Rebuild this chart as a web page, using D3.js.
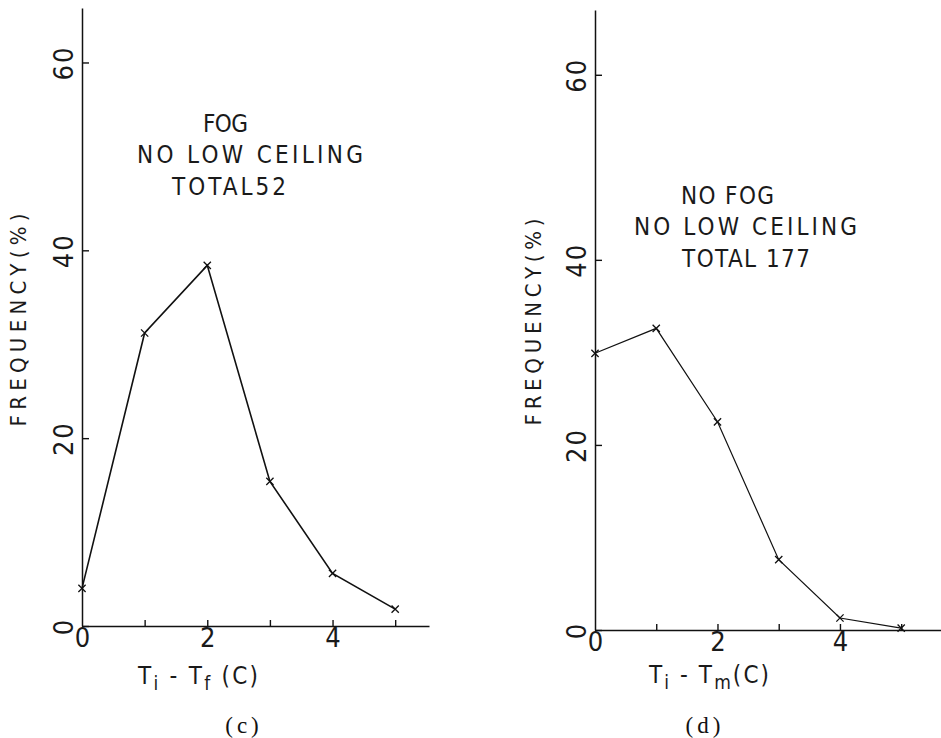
<!DOCTYPE html>
<html>
<head>
<meta charset="utf-8">
<script src="https://cdnjs.cloudflare.com/ajax/libs/d3/7.8.5/d3.min.js"></script>
<style>
  html, body { margin: 0; padding: 0; background: #fff; }
  svg { display: block; }
  text { fill: #1a1a1a; font-family: "Liberation Sans Narrow", "DejaVu Sans Condensed", "Liberation Sans", sans-serif; }
  .caption { font-family: "Liberation Serif", "DejaVu Serif", serif; fill: #111; }
</style>
</head>
<body>
<svg id="chart" width="941" height="738"></svg>
<script>
// temperature difference classes (C)
const diffs = [0, 1, 2, 3, 4, 5];
// (c) fog, no low ceiling, total 52
const fogFreq = [4.0, 31.2, 38.4, 15.4, 5.6, 1.8];
// (d) no fog, no low ceiling, total 177
const noFogFreq = [29.9, 32.6, 22.5, 7.6, 1.3, 0.2];
const yTicks = [0, 20, 40, 60];
const xTickLabels = [0, 2, 4];
const yLabel = 'FREQUENCY(%)';

const svg = d3.select('#chart');

function drawPanel(opts) {
  const x = d3.scaleLinear().domain([0, opts.xMax]).range([opts.left, opts.right]);
  const y = d3.scaleLinear().domain([0, opts.yMax]).range([opts.bottom, opts.top]);
  const g = svg.append('g');

  // y axis, ticks pointing inward, labels turned on their side
  const yAxis = g.append('g')
    .attr('transform', `translate(${opts.left},0)`)
    .call(d3.axisLeft(y).tickValues(yTicks).tickSizeInner(-7).tickSizeOuter(0));
  yAxis.select('.domain').attr('stroke', '#111').attr('stroke-width', 1.5);
  yAxis.selectAll('.tick line').attr('stroke', '#111').attr('stroke-width', 1.4);
  yAxis.selectAll('.tick text')
    .attr('x', null).attr('dy', null)
    .attr('transform', 'translate(-9,0) rotate(-90)')
    .attr('text-anchor', 'middle')
    .attr('font-size', 27)
    .attr('letter-spacing', 2)
    .attr('font-family', null);

  // x axis
  const xAxis = g.append('g')
    .attr('transform', `translate(0,${opts.bottom})`)
    .call(d3.axisBottom(x).tickValues(diffs).tickSizeInner(-6).tickSizeOuter(0)
      .tickFormat(d => xTickLabels.includes(d) ? d : ''));
  xAxis.select('.domain').attr('stroke', '#111').attr('stroke-width', 1.5);
  xAxis.selectAll('.tick line').attr('stroke', '#111').attr('stroke-width', 1.4);
  xAxis.selectAll('.tick text')
    .attr('y', 21).attr('dy', null)
    .attr('font-size', 27)
    .attr('font-family', null);
  xAxis.selectAll('.tick').filter(d => d === 0).select('line').remove();

  // frequency polygon
  const line = d3.line().x((d, i) => x(diffs[i])).y(d => y(d));
  g.append('path')
    .datum(opts.values)
    .attr('d', line)
    .attr('fill', 'none')
    .attr('stroke', '#111')
    .attr('stroke-width', opts.lineWidth);

  g.selectAll('.mark')
    .data(opts.values)
    .enter().append('path')
    .attr('class', 'mark')
    .attr('transform', (d, i) => `translate(${x(diffs[i])},${y(d)})`)
    .attr('d', d3.symbol(d3.symbolTimes, 36))
    .attr('fill', 'none')
    .attr('stroke', '#111')
    .attr('stroke-width', 1.3);

  // y title
  g.append('text')
    .attr('transform', `translate(${opts.yLabelX},${opts.yLabelY}) rotate(-90)`)
    .attr('text-anchor', 'middle')
    .attr('font-size', 22)
    .attr('textLength', opts.yLabelLen)
    .attr('lengthAdjust', 'spacing')
    .text(yLabel);

  // annotation block
  opts.notes.forEach(n => {
    g.append('text')
      .attr('x', n.x).attr('y', n.y)
      .attr('font-size', 24)
      .attr('textLength', n.len)
      .attr('lengthAdjust', 'spacing')
      .text(n.text);
  });

  // x title with subscripts
  const t = g.append('text')
    .attr('x', opts.xTitle.x).attr('y', opts.xTitle.y)
    .attr('font-size', 24)
    .attr('textLength', opts.xTitle.len)
    .attr('lengthAdjust', 'spacing');
  t.append('tspan').text('T');
  t.append('tspan').attr('font-size', 19).attr('dy', 6).text('i');
  t.append('tspan').attr('dy', -6).text(' - T');
  t.append('tspan').attr('font-size', 19).attr('dy', 6).text(opts.sub);
  t.append('tspan').attr('dy', -6).text(opts.unit);

  // panel caption
  g.append('text')
    .attr('class', 'caption')
    .attr('x', opts.caption.x).attr('y', 733)
    .attr('text-anchor', 'middle')
    .attr('font-size', 23)
    .attr('letter-spacing', 4)
    .text(opts.caption.text);
}

drawPanel({
  values: fogFreq,
  left: 82, right: 429, xMax: 5.54,
  bottom: 626, top: 8, yMax: 65.8,
  lineWidth: 1.6,
  yLabelX: 26, yLabelY: 320, yLabelLen: 213,
  notes: [
    { text: 'FOG', x: 203, y: 132, len: 45 },
    { text: 'NO LOW CEILING', x: 137, y: 163, len: 226 },
    { text: 'TOTAL52', x: 172, y: 195, len: 114 }
  ],
  xTitle: { x: 138, y: 684, len: 120 },
  sub: 'f', unit: ' (C)',
  caption: { x: 244, text: '(c)' }
});

drawPanel({
  values: noFogFreq,
  left: 595, right: 941, xMax: 5.65,
  bottom: 630, top: 10, yMax: 67,
  lineWidth: 1.2,
  yLabelX: 541, yLabelY: 322, yLabelLen: 207,
  notes: [
    { text: 'NO FOG', x: 681, y: 204, len: 93 },
    { text: 'NO LOW CEILING', x: 634, y: 235, len: 223 },
    { text: 'TOTAL 177', x: 682, y: 267, len: 128 }
  ],
  xTitle: { x: 649, y: 683, len: 120 },
  sub: 'm', unit: '(C)',
  caption: { x: 705, text: '(d)' }
});
</script>
</body>
</html>
